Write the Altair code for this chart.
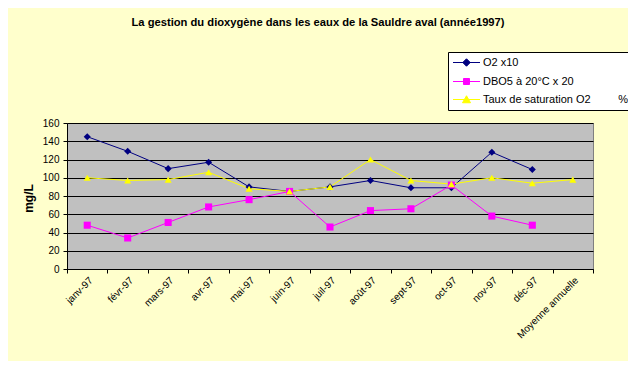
import altair as alt
import pandas as pd

months = ["janv-97", "févr-97", "mars-97", "avr-97", "mai-97", "juin-97", "juil-97",
          "août-97", "sept-97", "oct-97", "nov-97", "déc-97", "Moyenne annuelle"]

o2_x10 = [145, 129, 110, 117, 90, 85, 90, 97, 89, 89, 128, 109]
dbo5_x20 = [48, 34, 51, 68, 76, 85, 46, 64, 66, 92, 58, 48]
taux_sat = [100, 97, 98, 106, 88, 85, 90, 120, 97, 93, 100, 94, 98]

series_names = ["O2 x10", "DBO5 à 20°C x 20",
                "Taux de saturation O2" + "\u00a0" * 9 + "%"]
series_colors = ["#000080", "#FF00FF", "#FFFF00"]
series_shapes = ["diamond", "square", "triangle-up"]

rows = []
for name, vals in zip(series_names, [o2_x10, dbo5_x20, taux_sat]):
    for m, v in zip(months, vals):
        rows.append({"mois": m, "valeur": v, "serie": name})
df = pd.DataFrame(rows)

legend_paths = [
    "M-2.7,0H2.7M0,-0.75L0.75,0L0,0.75L-0.75,0Z",
    "M-2.7,0H2.7M-0.6,-0.6H0.6V0.6H-0.6Z",
    "M-2.7,0H2.7M0,-0.75L0.8,0.65H-0.8Z",
]

x = alt.X("mois:N", sort=months, scale=alt.Scale(domain=months, paddingInner=0, paddingOuter=0),
          axis=alt.Axis(title=None, labelAngle=-45, tickBand="extent", labelFont="Liberation Sans",
                        labelFontSize=10, labelColor="black", domainColor="black", tickColor="black",
                        tickSize=4, labelPadding=2, grid=False))
y = alt.Y("valeur:Q", scale=alt.Scale(domain=[0, 160], nice=False),
          axis=alt.Axis(title="mg/L", values=list(range(0, 161, 20)), grid=True, gridColor="black",
                        gridWidth=1, domainColor="black", tickColor="black", tickSize=4,
                        labelFont="Liberation Sans", labelFontSize=10, labelColor="black",
                        labelPadding=4, titleFont="Liberation Sans", titleFontSize=12,
                        titleFontWeight="bold", titleColor="black", titleX=-39, titleY=75,
                        titleAngle=-90, titleAlign="center", titleBaseline="middle"))

cscale = alt.Scale(domain=series_names, range=series_colors)

lines = alt.Chart(df).mark_line(strokeWidth=1).encode(
    x=x, y=y, color=alt.Color("serie:N", scale=cscale, legend=None), detail="serie:N")
points = alt.Chart(df).mark_point(filled=True, opacity=1, size=50).encode(
    x=x, y=y, color=alt.Color("serie:N", scale=cscale, legend=None),
    shape=alt.Shape("serie:N", scale=alt.Scale(domain=series_names, range=series_shapes), legend=None),
)

legend = alt.Legend(
    title=None, orient="none", legendX=381, legendY=-71,
    fillColor="white", strokeColor="black", padding=5,
    labelFont="Liberation Sans", labelFontSize=11, labelColor="black",
    symbolSize=100, symbolOffset=8, labelOffset=11, rowPadding=6, cornerRadius=0,
    labelLimit=200, symbolOpacity=1, symbolStrokeWidth=1,
)
legend_layer = alt.Chart(df).mark_point(filled=False, opacity=0, size=100, strokeWidth=1).encode(
    x=x, y=y,
    color=alt.Color("serie:N", scale=cscale, legend=legend),
    fill=alt.Fill("serie:N", scale=cscale, legend=legend),
    shape=alt.Shape("serie:N", scale=alt.Scale(domain=series_names, range=legend_paths), legend=legend),
)

chart = alt.layer(lines, points, legend_layer).resolve_scale(
    color="independent", shape="independent", fill="independent"
).properties(
    width=526, height=146,
    autosize=alt.AutoSizeParams(type="none"),
    padding={"left": 59, "top": 115, "right": 35, "bottom": 92},
    background="#FFFFCC",
    title=alt.TitleParams(
        "La gestion du dioxygène dans les eaux de la Sauldre aval (année1997)",
        font="Liberation Sans", fontSize=11.2, fontWeight="bold", color="black",
        anchor="middle", frame="group", offset=23, dx=-12),
).configure_view(fill="#C0C0C0", stroke="#808080", strokeWidth=1)

chart.save("out.html", embed_options={"renderer": "svg", "actions": False})
